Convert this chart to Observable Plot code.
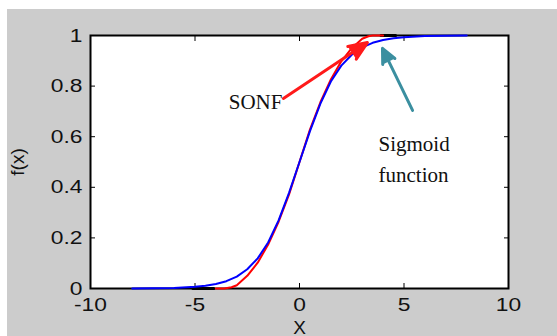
<!DOCTYPE html>
<html><head><meta charset="utf-8">
<script src="https://cdn.jsdelivr.net/npm/d3@7"></script>
<script src="https://cdn.jsdelivr.net/npm/@observablehq/plot@0.6"></script>
<style>
html,body{margin:0;padding:0;background:#fff;}
#chart{position:absolute;left:7px;top:9px;}
</style></head><body><div id="chart"></div>
<script>
// Axis ticks
const xTicks = [-10, -5, 0, 5, 10];
const yTicks = [0, 0.2, 0.4, 0.6, 0.8, 1];
const yTickLabels = ["0", "0.2", "0.4", "0.6", "0.8", "1"];

// Sigmoid function (blue)
const sigmoidX = [-8,-7,-6,-5,-4.5,-4,-3.5,-3,-2.5,-2,-1.5,-1,-0.5,0,0.5,1,1.5,2,2.5,3,3.5,4,4.5,5,6,7,8];
const sigmoidY = [0,0.001,0.002,0.007,0.011,0.018,0.029,0.047,0.076,0.119,0.182,0.269,0.378,0.5,0.622,0.731,0.818,0.881,0.924,0.953,0.971,0.982,0.989,0.993,0.998,0.999,1];

// SONF (red)
const sonfX = [-4,-3.6,-3.25,-3,-2.5,-2,-1.5,-1,-0.5,0,0.5,1,1.5,2,2.5,3,3.3,3.5,4];
const sonfY = [0,0,0.005,0.013,0.05,0.102,0.174,0.264,0.372,0.5,0.628,0.736,0.826,0.898,0.95,0.987,0.997,1,1];

// short black segments visible on the axes
const blackX = [-5.1, -4.1, 3.9, 4.6];
const blackY = [0, 0, 1, 1];
const blackId = ["a", "a", "b", "b"];

// annotations
const arrowNames = ["SONF", "Sigmoid function"];
const arrowX1 = [-0.77, 5.41];
const arrowY1 = [0.751, 0.704];
const arrowX2 = [3.25, 3.97];
const arrowY2 = [0.972, 0.949];
const labelText = ["SONF", "Sigmoid\nfunction"];
const labelX = [-2.1, 3.78];
const labelY = [0.735, 0.522];

const sigmoid = sigmoidX.map((x, i) => ({x, y: sigmoidY[i]}));
const sonf = sonfX.map((x, i) => ({x, y: sonfY[i]}));
const black = blackX.map((x, i) => ({x, y: blackY[i], id: blackId[i]}));
const arrows = arrowNames.map((n, i) => ({n, x1: arrowX1[i], y1: arrowY1[i], x2: arrowX2[i], y2: arrowY2[i]}));
const labels = labelText.map((t, i) => ({t, x: labelX[i], y: labelY[i]}));

const none = () => "";
const plot = Plot.plot({
  width: 550,
  height: 327,
  marginLeft: 83,
  marginRight: 49,
  marginTop: 26,
  marginBottom: 48,
  style: {background: "#cccccc", fontFamily: "'Liberation Sans', Arial, sans-serif", overflow: "visible", color: "#111"},
  x: {domain: [-10, 10]},
  y: {domain: [0, 1]},
  marks: [
    Plot.frame({fill: "white", stroke: null}),
    Plot.axisX(xTicks, {anchor: "bottom", tickSize: 0, tickPadding: 9, fontSize: 19, tickFormat: d => String(d),
      label: "X", labelAnchor: "center", labelArrow: "none"}),
    Plot.axisX(xTicks, {anchor: "bottom", tickSize: 5, dy: -5, tickFormat: none, label: null, stroke: "black"}),
    Plot.axisX(xTicks, {anchor: "top", tickSize: 5, dy: 5, tickFormat: none, label: null, stroke: "black"}),
    Plot.axisY(yTicks, {anchor: "left", tickSize: 0, tickPadding: 8, fontSize: 19,
      tickFormat: d => yTickLabels[yTicks.indexOf(d)], label: "f(x)", labelAnchor: "center", labelArrow: "none"}),
    Plot.axisY(yTicks, {anchor: "left", tickSize: 5, dx: 5, tickFormat: none, label: null, stroke: "black"}),
    Plot.axisY(yTicks, {anchor: "right", tickSize: 5, dx: -5, tickFormat: none, label: null, stroke: "black"}),
    Plot.frame({stroke: "black", strokeWidth: 2}),
    Plot.line(black, {x: "x", y: "y", z: "id", stroke: "black", strokeWidth: 3}),
    Plot.line(sonf, {x: "x", y: "y", stroke: "#ff0000", strokeWidth: 2}),
    Plot.line(sigmoid, {x: "x", y: "y", stroke: "#0000ff", strokeWidth: 2}),
    Plot.arrow(arrows.slice(0, 1), {x1: "x1", y1: "y1", x2: "x2", y2: "y2", stroke: "#ff1a1a", fill: "#ff1a1a", strokeWidth: 3, headLength: 10, headAngle: 45}),
    Plot.arrow(arrows.slice(1), {x1: "x1", y1: "y1", x2: "x2", y2: "y2", stroke: "#3b8fa0", fill: "#3b8fa0", strokeWidth: 3, headLength: 8, headAngle: 50}),
    Plot.text(labels.slice(0, 1), {x: "x", y: "y", text: "t", fontFamily: "'Liberation Serif', 'Times New Roman', serif", fontSize: 21, fill: "#111", textAnchor: "middle"}),
    Plot.text(labels.slice(1), {x: "x", y: "y", text: "t", fontFamily: "'Liberation Serif', 'Times New Roman', serif", fontSize: 21, fill: "#111", textAnchor: "start", lineHeight: 1.5})
  ]
});
document.getElementById("chart").appendChild(plot);
// widen tick labels slightly, as in the reference
d3.select(plot).selectAll('g[aria-label="x-axis tick label"] text, g[aria-label="y-axis tick label"] text')
  .attr("transform", function() { return (this.getAttribute("transform") || "") + " scale(1.2,1)"; });
</script>
</body></html>
